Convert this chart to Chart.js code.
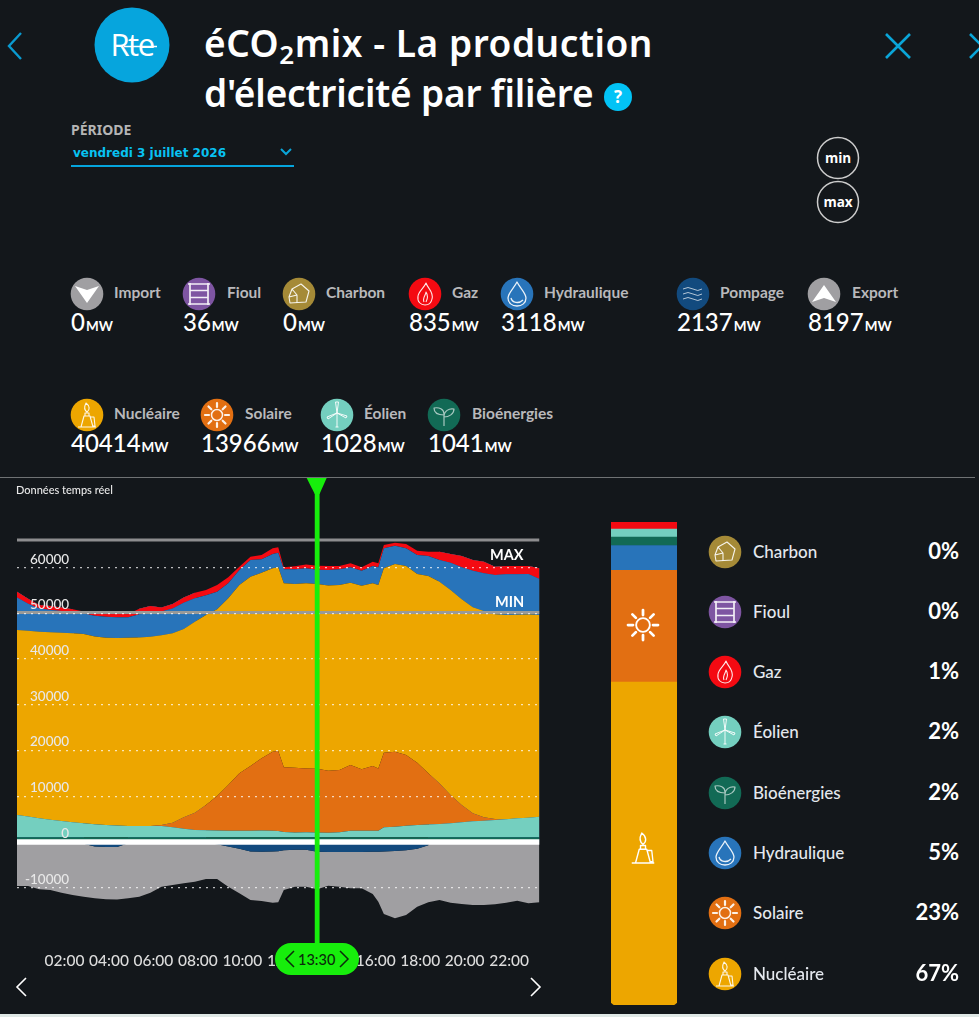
<!DOCTYPE html>
<html lang="fr">
<head>
<meta charset="utf-8">
<title>éCO2mix</title>
<script src="https://cdn.jsdelivr.net/npm/chart.js@4"></script>
<style>
  html, body { margin: 0; background: #13171b; overflow: hidden; }
  #page { position: relative; width: 979px; height: 1017px; font-family: Lato, "Noto Sans", sans-serif; color: #fff; overflow: hidden; }
  #page > * { position: absolute; }
  .t { white-space: nowrap; line-height: 1; }
  .name { font-weight: 700; font-size: 15.5px; color: #b9b9bb; }
  .val { font-size: 24px; font-weight: 500; color: #fff; }
  .val small { font-size: 13.5px; font-weight: 700; margin-left: 1px; }
  .lname { font-size: 17px; font-weight: 500; color: #e4e8ee; }
  .pct { font-size: 22px; font-weight: 700; color: #fff; text-align: right; }
  .title { font: 600 37px "Noto Sans"; line-height: 42px; }
</style>
</head>
<body>
<div id="page">
  <canvas id="mixChart" width="560" height="500" style="left:0;top:478px;width:560px;height:500px"></canvas>
  <canvas id="shareChart" width="66" height="483" style="left:610.5px;top:521.7px;width:66px;height:483px"></canvas>
</div>
<script>
// half-hourly readings, plus 11:45 and 16:15 where the curve has its two jumps
var times = ['00:00','00:30','01:00','01:30','02:00','02:30','03:00','03:30','04:00','04:30','05:00','05:30',
  '06:00','06:30','07:00','07:30','08:00','08:30','09:00','09:30','10:00','10:30','11:00','11:30','11:45',
  '12:00','12:30','13:00','13:30','14:00','14:30','15:00','15:30','16:00','16:15','16:30','17:00','17:30',
  '18:00','18:30','19:00','19:30','20:00','20:30','21:00','21:30','22:00','22:30','23:00','23:30'];

var bioenergies = [1040,1040,1040,1040,1040,1040,1040,1040,1040,1040,1040,1040,1040,1040,1040,1040,1040,1040,1040,1040,
  1040,1040,1040,1040,1040,1040,1040,1040,1041,1040,1040,1040,1040,1040,1040,1040,1040,1040,1040,1040,1040,1040,1040,
  1040,1040,1040,1040,1040,1040,1040];
var eolien = [4860,4510,4140,3840,3550,3290,3040,2860,2680,2560,2460,2460,2460,2460,2160,1860,1580,1510,1460,1440,1440,
  1440,1460,1440,1360,1150,1060,1070,1028,1000,1110,1440,1400,1440,1440,2160,2310,2530,2680,2760,2900,3040,3260,3480,
  3620,3770,3920,4140,4280,4500];
var solaire = [0,0,0,0,0,0,0,0,0,0,0,0,0,200,1030,2500,3790,5540,7560,9990,12540,14150,15800,17270,17500,14150,14150,
  13990,13966,13560,13600,14360,13460,14150,13620,16330,16400,15460,13630,11220,8900,6200,3790,1760,740,220,0,0,0,0];
var nucleaire = [40475,40650,40820,41020,41190,41310,41420,41070,40980,41000,41200,41250,41410,41500,41420,41200,41790,
  41570,40840,40830,41180,41410,40600,40120,40200,40260,40190,40500,40414,40500,40470,39880,40160,39970,40120,40340,
  41050,41370,41270,43170,44100,44840,44990,45060,45130,44770,44700,44520,44430,44120];
var hydraulique = [7125,5900,5100,4850,4750,4760,4500,4530,4590,4550,4450,5050,5090,5200,5450,5750,5100,4340,3850,3300,
  3300,3660,2950,3130,3200,3060,3220,3270,3118,3400,3440,3360,3290,3800,3880,4370,4000,3840,4160,4370,4750,5980,7000,
  8010,8250,8600,8900,8860,8870,7870];
var gaz = [1250,1100,740,870,770,500,400,500,710,720,720,1200,1620,900,960,1150,1240,1100,1450,1300,730,700,930,1240,
  1200,420,640,830,835,900,740,920,730,900,900,730,680,950,950,940,1810,1900,2480,2340,2520,1830,1840,1840,1780,2340];
var pompage = [0,0,0,0,0,0,-400,-1000,-1100,-1100,-300,0,0,0,0,0,0,-200,-500,-1000,-1500,-2100,-2150,-2100,-2050,-1800,
  -1700,-1700,-2137,-2200,-2200,-2200,-2200,-2150,-2150,-2100,-2000,-1800,-1500,-700,0,0,0,0,0,0,0,0,0,0];
var exportation = [-9625,-9625,-10350,-10500,-11080,-11590,-11560,-11320,-11440,-11500,-12020,-11960,-11080,-9770,-9400,
  -9040,-8680,-7890,-7600,-8770,-9730,-10590,-10750,-11170,-11150,-8700,-8070,-8070,-8197,-7350,-7570,-7930,-7930,-9225,
  -10900,-13650,-14690,-14170,-12650,-12500,-12690,-13270,-13560,-13780,-13780,-13630,-13270,-12840,-13410,-13200];

var maxLevel = 66060;
var minLevel = 50200;
var cursorTime = '13:30';

// production at 13:30, bottom of the column first
var shareNames = ['Nucléaire','Solaire','Hydraulique','Bioénergies','Éolien','Gaz'];
var shareValues = [40414,13966,3118,1041,1028,871];
var shareColors = ['#eda600','#e26f12','#2874ba','#126a55','#74cfbf','#f40a12'];

var hours = times.map(function (t) { return +t.slice(0, 2) + t.slice(3) / 60; });
function pts(arr) { return arr.map(function (v, i) { return {x: hours[i], y: v}; }); }
function flat(v) { return [{x: 0, y: v}, {x: 23.5, y: v}]; }
function pad(h) { return (h < 10 ? '0' : '') + h + ':00'; }

function area(label, arr, color, fill) {
  return {label: label, data: pts(arr), backgroundColor: color, borderColor: color, borderWidth: 0, fill: fill, pointRadius: 0, tension: 0};
}
function level(label, v, color, w) {
  return {label: label, data: flat(v), stack: label, borderColor: color, borderWidth: w, fill: false, pointRadius: 0, order: -1};
}

var cursorPlugin = {
  id: 'cursor',
  afterDraw: function (chart) {
    var ctx = chart.ctx;
    var x = chart.scales.x.getPixelForValue(13.5);
    ctx.save();
    ctx.fillStyle = '#17ee0c';
    ctx.fillRect(x - 2.4, 2, 4.8, 466);
    ctx.beginPath();
    ctx.moveTo(x - 10.5, 0);
    ctx.lineTo(x + 9.5, 0);
    ctx.lineTo(x + 2.4, 16);
    ctx.lineTo(x - 2.4, 16);
    ctx.closePath();
    ctx.fill();
    ctx.restore();
  }
};

new Chart(document.getElementById('mixChart'), {
  type: 'line',
  plugins: [cursorPlugin],
  data: {
    datasets: [
      area('Bioénergies', bioenergies, '#126a55', 'origin'),
      area('Éolien', eolien, '#74cfbf', '-1'),
      area('Solaire', solaire, '#e26f12', '-1'),
      area('Nucléaire', nucleaire, '#eda600', '-1'),
      area('Hydraulique', hydraulique, '#2874ba', '-1'),
      area('Gaz', gaz, '#f40a12', '-1'),
      area('Pompage', pompage, '#124a7e', 'origin'),
      area('Export', exportation, '#a09fa2', '-1'),
      level('max', maxLevel, '#8d8d8f', 3),
      level('min', minLevel, '#9a9a98', 3),
      level('zero', 0, '#ffffff', 5.5)
    ]
  },
  options: {
    responsive: false,
    animation: false,
    layout: {padding: {left: 17, right: 20.5, top: 44, bottom: 0}},
    plugins: {legend: {display: false}, tooltip: {enabled: false}},
    scales: {
      x: {
        type: 'linear',
        min: 0,
        max: 23.5,
        grid: {display: false},
        border: {display: false},
        afterBuildTicks: function (s) {
          s.ticks = [2,4,6,8,10,12,14,16,18,20,22].map(function (v) { return {value: v}; });
        },
        afterFit: function (s) { s.height = 44.6; },
        ticks: {
          color: '#dcdcdc',
          font: {family: 'Lato', size: 15.5, weight: '500'},
          padding: 10,
          labelOffset: 3,
          maxRotation: 0,
          autoSkip: false,
          callback: function (v) { return pad(v); }
        }
      },
      y: {
        stacked: true,
        min: -20000,
        max: 70000,
        grid: {color: 'rgba(255,255,255,0.72)', lineWidth: 1.3, drawTicks: false, z: 1},
        border: {display: false, dash: [2, 5]},
        afterBuildTicks: function (s) {
          s.ticks = s.ticks.filter(function (t) { return t.value >= -10000 && t.value <= 60000; });
        },
        afterFit: function (s) { s.width = 0; },
        ticks: {
          stepSize: 10000,
          mirror: true,
          crossAlign: 'far',
          padding: 8,
          labelOffset: -8.5,
          z: 2,
          color: '#e8e8e8',
          font: {family: 'Lato', size: 13.5, weight: '500'},
          callback: function (v) { return String(v); }
        }
      }
    }
  }
});

var totalShare = shareValues.reduce(function (a, b) { return a + b; }, 0);
new Chart(document.getElementById('shareChart'), {
  type: 'bar',
  data: {
    labels: [cursorTime],
    datasets: shareNames.map(function (n, i) {
      return {
        label: n,
        data: [shareValues[i]],
        backgroundColor: shareColors[i],
        barPercentage: 1,
        categoryPercentage: 1,
        borderSkipped: false,
        borderRadius: i === 0 ? {bottomLeft: 5, bottomRight: 5, topLeft: 0, topRight: 0} : 0
      };
    })
  },
  options: {
    responsive: false,
    animation: false,
    layout: {padding: 0},
    plugins: {legend: {display: false}, tooltip: {enabled: false}},
    scales: {
      x: {display: false, stacked: true},
      y: {display: false, stacked: true, min: 0, max: totalShare}
    }
  }
});

// everything around the charts
var page = document.getElementById('page');
function add(html) { page.insertAdjacentHTML('beforeend', html); }
function text(x, y, cls, str, extra) {
  add('<div class="t ' + cls + '" style="left:' + x + 'px;top:' + y + 'px;' + (extra || '') + '">' + str + '</div>');
}
function svg(x, y, w, h, inner, extra) {
  add('<svg style="left:' + x + 'px;top:' + y + 'px;' + (extra || '') + '" width="' + w + '" height="' + h + '" viewBox="0 0 ' + w + ' ' + h + '" fill="none">' + inner + '</svg>');
}

var glyphs = {
  imp: '<path d="M-12 -8 L0 -4 L12 -8 L0 9 Z" fill="#fff" stroke="none"/>',
  exp: '<path d="M-12 8 L0 4 L12 8 L0 -9 Z" fill="#fff" stroke="none"/>',
  fioul: '<path d="M-9 -11V11M9 -11V11M-11 -10H11M-9 -3.5H9M-9 3.5H9M-11 10H11" stroke-width="1.7"/>',
  charbon: '<path d="M-10 3 L-7 -5 L2 -10 L10 -3 L7 8 L-9 9 Z M-7 -5 L-2 1 L-10 3 M-2 1 L-2 9" stroke-width="1.1"/>',
  gaz: '<path d="M1 -11 C3 -5 9 -2 7 5 C6 10 2 11 0 11 C-4 11 -8 8 -7 2 C-6 -3 -1 -6 1 -11 Z M-1 8 C-3 4 1 1 1 -2 C3 1 3 4 1 8" stroke-width="1.1"/>',
  hydro: '<path d="M0 -12 C3 -6 9 -1 9 4 C9 9 5 12 0 12 C-5 12 -9 9 -9 4 C-9 -1 -3 -6 0 -12 Z M-6 4 C-5 9 2 10 6 6" stroke-width="1.3"/>',
  pompage: '<path d="M-10 -5 Q-5 -8 0 -5 T9 -5 M-10 0 Q-5 -3 0 0 T9 0 M-10 5 Q-5 2 0 5 T9 5" stroke-width="1" stroke-opacity=".75"/>',
  nucleaire: '<path d="M-6 12 L-3 1 H3 L6 12 Z M3 2 H7 L8 11 H6 M-9 12 H9 M-2 1 V-2 H2 V1 M0 -3 C-3 -5 -3 -8 -1 -12 C3 -9 3 -5 0 -3 Z" stroke-width="1.1"/>',
  solaire: '<circle r="5.5" stroke-width="1.5"/><path d="M0 -8V-12M0 8V12M-8 0H-12M8 0H12M-5.7 -5.7L-8.5 -8.5M5.7 -5.7L8.5 -8.5M-5.7 5.7L-8.5 8.5M5.7 5.7L8.5 8.5" stroke-width="2.2" stroke-linecap="round"/>',
  eolien: '<path d="M0 12 V-1 M-1.5 12 H1.5 M0 -2 L-1.5 -13 L1.5 -13 Z M0 -2 L10 1 L9 3 Z M0 -2 L-9 4 L-10 2 Z" stroke-width="1"/>',
  bio: '<path d="M0 11 V-1 C0 -6 -5 -8 -10 -7 C-10 -2 -6 0 0 0 M0 2 C0 -4 5 -7 10 -6 C10 -1 5 2 0 2" stroke-width="1.2" stroke-opacity=".7"/>'
};
var colors = {imp: '#a09fa2', exp: '#a09fa2', fioul: '#7e55a2', charbon: '#a58a37', gaz: '#f40a12', hydro: '#2874ba',
  pompage: '#124a7e', nucleaire: '#eda600', solaire: '#e26f12', eolien: '#74cfbf', bio: '#126a55'};
function badge(key, cx, cy) {
  svg(cx - 17, cy - 17, 34, 34, '<circle cx="17" cy="17" r="16.3" fill="' + colors[key] + '"/><g transform="translate(17 17)" stroke="rgba(255,255,255,.9)" stroke-linejoin="round">' + glyphs[key] + '</g>');
}

// header
svg(5, 30, 20, 32, '<path d="M16 3 L4 16 L16 29" stroke="#0a9ad0" stroke-width="2.4"/>');
svg(94, 7, 76, 76, '<circle cx="38" cy="38" r="37.5" fill="#06a5dd"/><text x="38" y="49" text-anchor="middle" fill="#fff" font-family="Open Sans" font-size="31" letter-spacing="-1.5">Rte</text><path d="M30 39.5 H63" stroke="#fff" stroke-width="1.5"/>');
text(204, 22, 'title', 'éCO<sub style="font-size:26px;line-height:0;vertical-align:-7px">2</sub>mix - La production', 'letter-spacing:0.55px');
text(204, 72, 'title', "d'électricité par filière", 'letter-spacing:-0.17px');
svg(603, 82, 30, 30, '<circle cx="15" cy="15" r="14" fill="#02c3f6"/><text x="15" y="21" text-anchor="middle" fill="#fff" font-family="Open Sans" font-weight="700" font-size="17">?</text>');
svg(883, 31, 30, 30, '<path d="M3 3 L27 27 M27 3 L3 27" stroke="#0aa5d8" stroke-width="2.6"/>');
svg(968, 31, 11, 30, '<path d="M2 3 L14 15 L2 27" stroke="#0aa5d8" stroke-width="2.6"/>');
text(71, 120, '', 'PÉRIODE', 'font:700 14px Noto Sans;color:#b5b5b5');
text(73, 146, '', 'vendredi 3 juillet 2026', 'font:700 12px DejaVu Sans;color:#08c2f2');
svg(279, 146, 14, 12, '<path d="M2 3 L7 8 L12 3" stroke="#0aa5d8" stroke-width="2"/>');
add('<div style="left:71px;top:165px;width:223px;height:1.6px;background:#05a5dd"></div>');
svg(816, 136, 44, 44, '<circle cx="22" cy="22" r="20.5" stroke="#ccc" stroke-width="1.5"/><text x="22" y="26.5" text-anchor="middle" fill="#fff" font-family="Open Sans" font-weight="700" font-size="13.5">min</text>');
svg(816, 180, 44, 44, '<circle cx="22" cy="22" r="20.5" stroke="#ccc" stroke-width="1.5"/><text x="22" y="26.5" text-anchor="middle" fill="#fff" font-family="Open Sans" font-weight="700" font-size="13.5">max</text>');

// power readings at the cursor
var topRow = [['imp','Import','0',87,114],['fioul','Fioul','36',199,227],['charbon','Charbon','0',299,326],['gaz','Gaz','835',425,452],
  ['hydro','Hydraulique','3118',517,544],['pompage','Pompage','2137',693,720],['exp','Export','8197',824,852]];
var bottomRow = [['nucleaire','Nucléaire','40414',87,114],['solaire','Solaire','13966',217,245],['eolien','Éolien','1028',337,364],['bio','Bioénergies','1041',444,472]];
function row(items, cy) {
  items.forEach(function (it) {
    badge(it[0], it[3], cy);
    text(it[4], cy - 9, 'name', it[1]);
    text(it[3] - 16, cy + 16, 'val', it[2] + '<small>MW</small>');
  });
}
row(topRow, 294);
row(bottomRow, 415);
add('<div style="left:0;top:477px;width:975px;height:1.2px;background:#6f7274"></div>');
text(16, 483, '', 'Données temps réel', 'font:500 11px Lato;color:#e8e8e8');

// chart overlays
text(490, 546, '', 'MAX', 'font:700 14.5px Lato');
text(495, 593, '', 'MIN', 'font:700 14.5px Lato');
add('<div style="left:275px;top:943px;width:84px;height:32px;border-radius:16px;background:#17ee0c"></div>');
text(298, 951, '', cursorTime, 'font:500 14.5px Lato;color:#0b2a0b');
svg(283, 949, 14, 20, '<path d="M11 2 L3 10 L11 18" stroke="#0b2a0b" stroke-width="1.5"/>');
svg(337, 949, 14, 20, '<path d="M3 2 L11 10 L3 18" stroke="#0b2a0b" stroke-width="1.5"/>');
svg(14, 976, 16, 22, '<path d="M12 2 L3 11 L12 20" stroke="#fff" stroke-width="1.6"/>');
svg(527, 976, 16, 22, '<path d="M4 2 L13 11 L4 20" stroke="#fff" stroke-width="1.6"/>');

// icons on the column
svg(625, 607, 36, 36, '<g transform="translate(18 18) scale(1.25)" stroke="#fff" stroke-linejoin="round">' + glyphs.solaire + '</g>');
svg(625, 829, 36, 38, '<g transform="translate(18 19) scale(1.25)" stroke="#fff" stroke-linejoin="round">' + glyphs.nucleaire + '</g>');

// shares list
var listNames = ['Charbon','Fioul','Gaz','Éolien','Bioénergies','Hydraulique','Solaire','Nucléaire'];
var listKeys = ['charbon','fioul','gaz','eolien','bio','hydro','solaire','nucleaire'];
var listPct = ['0%','0%','1%','2%','2%','5%','23%','67%'];
var listY = [552,612,672,732,793,853,913,974];
listNames.forEach(function (n, i) {
  badge(listKeys[i], 725, listY[i]);
  text(753, listY[i] - 9, 'lname', n);
  text(859, listY[i] - 12, 'pct', listPct[i], 'width:100px');
});
add('<div style="left:0;top:1014px;width:979px;height:3px;background:#dfe8e6"></div>');
</script>
</body>
</html>
